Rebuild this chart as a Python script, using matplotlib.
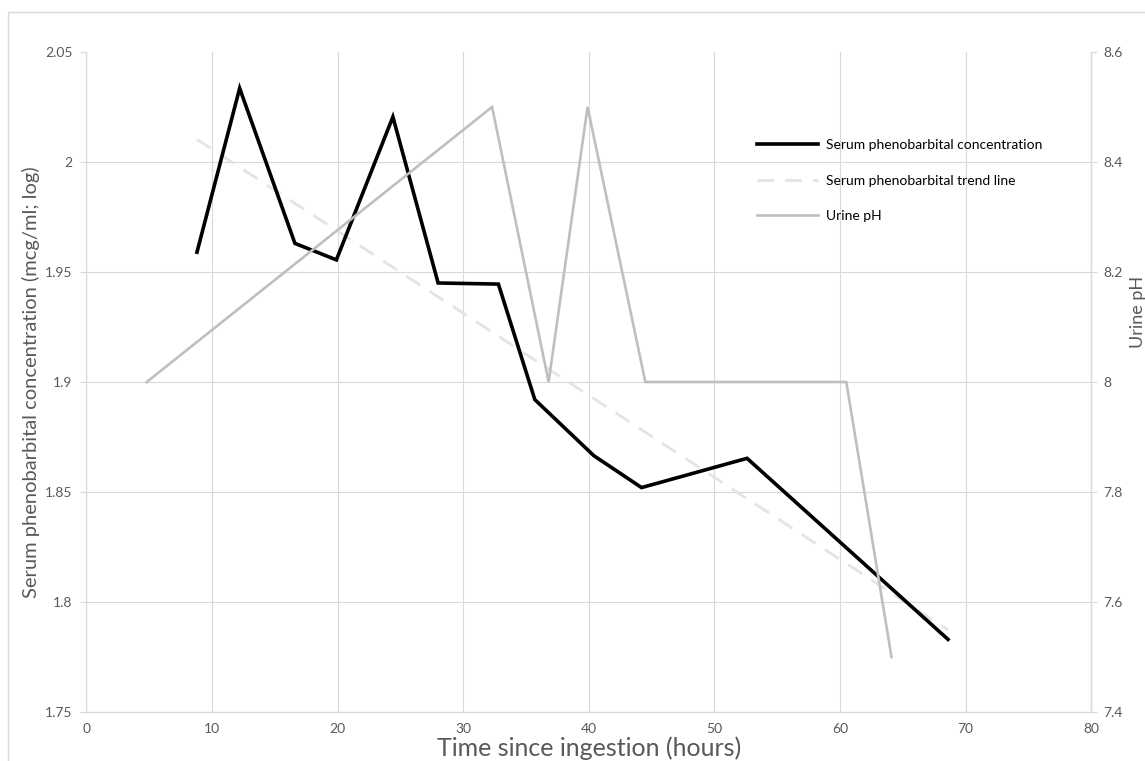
import matplotlib
matplotlib.use("Agg")
import matplotlib.pyplot as plt
from matplotlib.ticker import FuncFormatter, MultipleLocator
from matplotlib.patches import Rectangle

plt.rcParams['font.family'] = ['Lato', 'DejaVu Sans']

# serum phenobarbital (log10 of mcg/ml) vs hours since ingestion
serum_hours = [8.8, 12.2, 16.6, 19.9, 24.4, 28.0, 32.8, 35.7, 40.4, 44.2, 52.6, 68.6]
serum_log = [1.959, 2.0335, 1.963, 1.9555, 2.0205, 1.945, 1.9445, 1.892, 1.8665,
             1.852, 1.8653, 1.783]

# linear trend endpoints
trend_hours = [8.8, 68.6]
trend_log = [2.0103, 1.7873]

# urine pH
ph_hours = [4.8, 32.3, 36.8, 39.9, 44.5, 60.5, 64.1]
ph_vals = [8.0, 8.5, 8.0, 8.5, 8.0, 8.0, 7.5]

grid_c = '#d9d9d9'
text_c = '#595959'

fig = plt.figure(figsize=(11.45, 7.61), dpi=100)
ax = fig.add_axes([0.0755, 0.0644, 0.8775, 0.8673])
ax2 = ax.twinx()

# outer chart frame
fig.patches.append(Rectangle((8 / 1145, -0.1), 1.2, 1.1 - 12 / 761,
                             transform=fig.transFigure, fill=False,
                             edgecolor=grid_c, linewidth=1.0, zorder=0))

l1, = ax.plot(serum_hours, serum_log, color='black', lw=2.6, zorder=4,
              solid_joinstyle='miter', label='Serum phenobarbital concentration')
l2, = ax.plot(trend_hours, trend_log, color='#e4e4e4', lw=2.0, zorder=3,
              dashes=(6, 4), label='Serum phenobarbital trend line')
l3, = ax2.plot(ph_hours, ph_vals, color='#bfbfbf', lw=1.9, zorder=4,
               solid_joinstyle='miter', label='Urine pH')

ax.set_xlim(0, 80)
ax.set_ylim(1.75, 2.05)
ax2.set_ylim(7.4, 8.6)
ax.xaxis.set_major_locator(MultipleLocator(10))
ax.yaxis.set_major_locator(MultipleLocator(0.05))
ax2.yaxis.set_major_locator(MultipleLocator(0.2))
fmt = FuncFormatter(lambda v, p: '%g' % round(v, 3))
ax.yaxis.set_major_formatter(fmt)
ax2.yaxis.set_major_formatter(fmt)

ax.grid(True, color=grid_c, lw=0.8)
ax.set_axisbelow(True)
fig.canvas.draw()
# no gridline along the top edge
for t, g in zip(ax.get_yticks(), ax.yaxis.get_gridlines()):
    if abs(t - 2.05) < 1e-6:
        g.set_visible(False)

for a in (ax, ax2):
    for s in a.spines.values():
        s.set_color(grid_c)
        s.set_linewidth(0.9)
    a.spines['top'].set_visible(False)
ax2.spines['left'].set_visible(False)
ax2.spines['bottom'].set_visible(False)

ax.tick_params(axis='x', length=0, pad=8, labelsize=10, labelcolor=text_c)
ax.tick_params(axis='y', length=4, color=grid_c, pad=6, labelsize=10, labelcolor=text_c)
ax2.tick_params(axis='y', length=4, color=grid_c, pad=5, labelsize=10, labelcolor=text_c)

ax.set_xlabel('Time since ingestion (hours)', fontsize=18, color=text_c, labelpad=1)
ax.set_ylabel('Serum phenobarbital concentration (mcg/ml; log)', fontsize=14.5,
              color=text_c, labelpad=4)
fig.text(1130 / 1145, 1 - 312 / 761, 'Urine pH', rotation=90, fontsize=13,
         color=text_c, ha='left', va='center')

ax2.legend(handles=[l1, l2, l3], loc='upper left', bbox_to_anchor=(0.655, 0.887),
           frameon=False, fontsize=10, handlelength=4.4, handletextpad=0.6,
           labelspacing=1.7)

fig.savefig('out.png', dpi=100)
